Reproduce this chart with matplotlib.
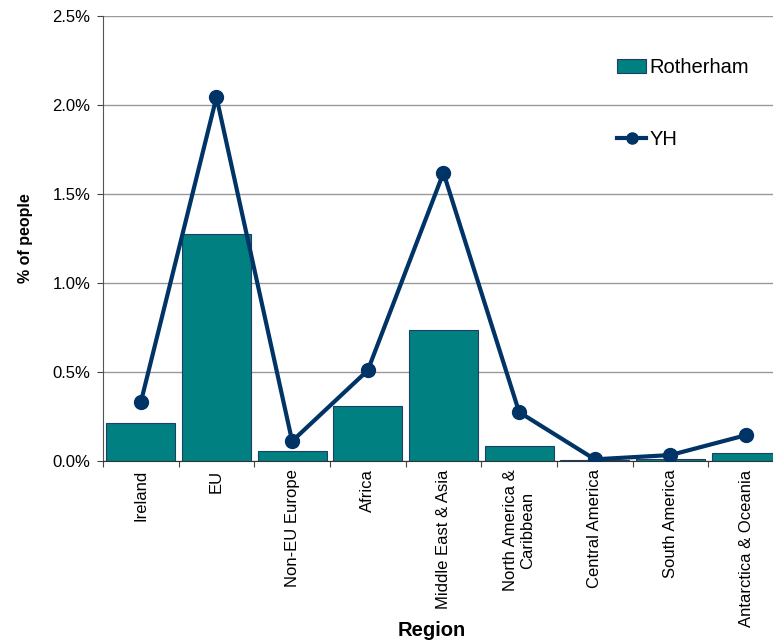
import matplotlib.pyplot as plt
from matplotlib.ticker import FuncFormatter

plt.rcParams['font.family'] = ['Liberation Sans', 'DejaVu Sans']

# regions and values (% of people)
regions = ['Ireland', 'EU', 'Non-EU Europe', 'Africa', 'Middle East & Asia',
           'North America &\nCaribbean', 'Central America', 'South America',
           'Antarctica & Oceania']
rotherham = [0.213, 1.275, 0.056, 0.31, 0.736, 0.084, 0.006, 0.01, 0.045]
yh = [0.33, 2.045, 0.112, 0.51, 1.62, 0.275, 0.01, 0.034, 0.146]

fig = plt.figure(figsize=(7.73, 6.44), dpi=100)
ax = fig.add_axes([0.1332, 0.284, 0.881, 0.691])

x = range(len(regions))
bars = ax.bar(x, rotherham, width=0.91, color='#008080', edgecolor='#1F3F66',
              linewidth=0.8, label='Rotherham', zorder=2)
line, = ax.plot(x, yh, color='#003366', linewidth=3, marker='o', markersize=10,
                label='YH', zorder=3)

ax.set_xlim(-0.5, len(regions) - 0.5)
ax.set_ylim(0, 2.5)
ax.set_yticks([0, 0.5, 1.0, 1.5, 2.0, 2.5])
ax.yaxis.set_major_formatter(FuncFormatter(lambda v, p: '%.1f%%' % v))
ax.grid(axis='y', color='#999999', linewidth=1, zorder=0)
ax.set_axisbelow(True)

# category ticks between bars, labels centred under the bars
ax.set_xticks([i - 0.5 for i in range(len(regions) + 1)])
ax.set_xticklabels([])
ax.set_xticks(list(x), minor=True)
ax.set_xticklabels(regions, minor=True, rotation=90, fontsize=12,
                   va='top', ha='center', multialignment='center')
ax.tick_params(axis='x', which='minor', length=0, pad=6)
ax.tick_params(axis='x', which='major', length=4, color='#444444', direction='out')
ax.tick_params(axis='y', length=4, color='#444444', labelsize=12, pad=5)

for s in ['top', 'right']:
    ax.spines[s].set_visible(False)
ax.spines['left'].set_color('#555555')
ax.spines['bottom'].set_color('#333333')

ax.set_ylabel('% of people', fontsize=11.5, fontweight='bold', labelpad=14)
ax.set_xlabel('Region', fontsize=14.5, fontweight='bold')
ax.xaxis.set_label_coords(0.483, -0.36)

leg = ax.legend([bars, line], ['Rotherham', 'YH'], loc='upper left',
                bbox_to_anchor=(0.755, 0.905), frameon=False, fontsize=14.5,
                labelspacing=2.6, handlelength=1.45, handletextpad=0.15,
                borderpad=0, borderaxespad=0, markerscale=0.8)

plt.savefig('out.png', dpi=100)
